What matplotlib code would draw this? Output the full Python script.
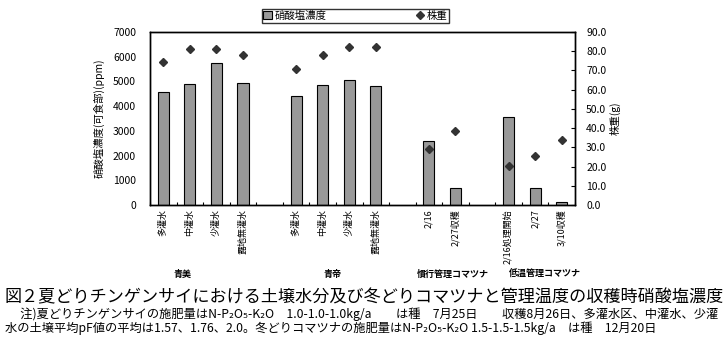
import numpy as np
import matplotlib
matplotlib.use("Agg")
import matplotlib.pyplot as plt

plt.rcParams['font.family'] = ['Noto Sans CJK JP', 'DejaVu Sans']

categories = ['多灌水', '中灌水', '少灌水', '露地無灌水', '',
              '多灌水', '中灌水', '少灌水', '露地無灌水', '',
              '2/16', '2/27収穫', '',
              '2/16処理開始', '2/27', '3/10収穫']
nitrate = [4560, 4880, 5730, 4920, np.nan,
           4400, 4840, 5050, 4800, np.nan,
           2580, 680, np.nan,
           3550, 680, 110]
weight = [74.4, 81.2, 81.2, 77.9, np.nan,
          70.6, 78.2, 82.0, 82.0, np.nan,
          29.0, 38.3, np.nan,
          20.1, 25.3, 33.8]
groups = ['青美', '青帝', '慣行管理コマツナ', '低温管理コマツナ']
group_x_px = [183, 333, 453, 545]
left_ticks = [0, 1000, 2000, 3000, 4000, 5000, 6000, 7000]
right_ticks = [0, 10, 20, 30, 40, 50, 60, 70, 80, 90]

W, H = 723, 346
fig = plt.figure(figsize=(W / 100, H / 100), dpi=100)
ax = fig.add_axes([150 / W, 1 - 205 / H, 425 / W, 173 / H])
ax2 = ax.twinx()

x = np.arange(len(categories))
b = ax.bar(x, nitrate, width=0.42, color='#999999', edgecolor='black', linewidth=0.8,
           label='硝酸塩濃度', zorder=2)
ln, = ax2.plot(x, weight, linestyle='none', marker='D', markersize=4.5,
               color='#333333', label='株重')

ax.set_xlim(-0.5, len(categories) - 0.5)
ax.set_ylim(0, 7000)
ax2.set_ylim(0, 90)
ax.set_yticks(left_ticks)
ax.set_yticklabels([str(v) for v in left_ticks], fontsize=7.5)
ax2.set_yticks(right_ticks)
ax2.set_yticklabels([f'{v:.1f}' for v in right_ticks], fontsize=7.5)
ax.tick_params(axis='y', length=0, pad=10)
ax2.tick_params(axis='y', direction='in', length=3, width=0.8, pad=8)

ax.set_xticks(x)
ax.set_xticklabels(categories, rotation=90, fontsize=6.5, va='top')
ax.tick_params(axis='x', length=0, pad=3)
ax.set_xticks(np.arange(len(categories) + 1) - 0.5, minor=True)
ax.tick_params(axis='x', which='minor', direction='in', length=2, width=0.8)

for a in (ax, ax2):
    for s in a.spines.values():
        s.set_linewidth(1.0)

ax.set_ylabel('硝酸塩濃度(可食部)(ppm)', fontsize=7.5, labelpad=6)
ax2.set_ylabel('株重(g)', fontsize=7.5, rotation=90, labelpad=2)

leg = fig.legend([b, ln], ['硝酸塩濃度', '株重'], loc='center',
                 bbox_to_anchor=((262 + 449) / 2 / W, 1 - 16 / H), ncol=2,
                 fontsize=7.5, frameon=True, fancybox=False, edgecolor='black',
                 borderpad=0.15, handlelength=0.8, handleheight=0.8, columnspacing=8.5,
                 handletextpad=0.3, borderaxespad=0)
leg.get_frame().set_linewidth(1.0)
leg._legend_box.sep = 0

for g, gx in zip(groups, group_x_px):
    fig.text(gx / W, 1 - 274 / H, g, ha='center', va='center', fontsize=6.5,
             fontweight='bold')

fig.text(5 / W, 1 - 297 / H,
         '図２夏どりチンゲンサイにおける土壌水分及び冬どりコマツナと管理温度の収穫時硝酸塩濃度',
         ha='left', va='center', fontsize=12.3)
fig.text(8 / W, 1 - 314 / H,
         '　注)夏どりチンゲンサイの施肥量はN-P₂O₅-K₂O　1.0-1.0-1.0kg/a　　は種　7月25日　　収穫8月26日、多灌水区、中灌水、少灌',
         ha='left', va='center', fontsize=8.8, family=['Noto Sans CJK JP', 'DejaVu Sans'])
fig.text(5 / W, 1 - 328 / H,
         '水の土壌平均pF値の平均は1.57、1.76、2.0。冬どりコマツナの施肥量はN-P₂O₅-K₂O 1.5-1.5-1.5kg/a　は種　12月20日',
         ha='left', va='center', fontsize=8.8, family=['Noto Sans CJK JP', 'DejaVu Sans'])

fig.savefig('out.png', dpi=100)
